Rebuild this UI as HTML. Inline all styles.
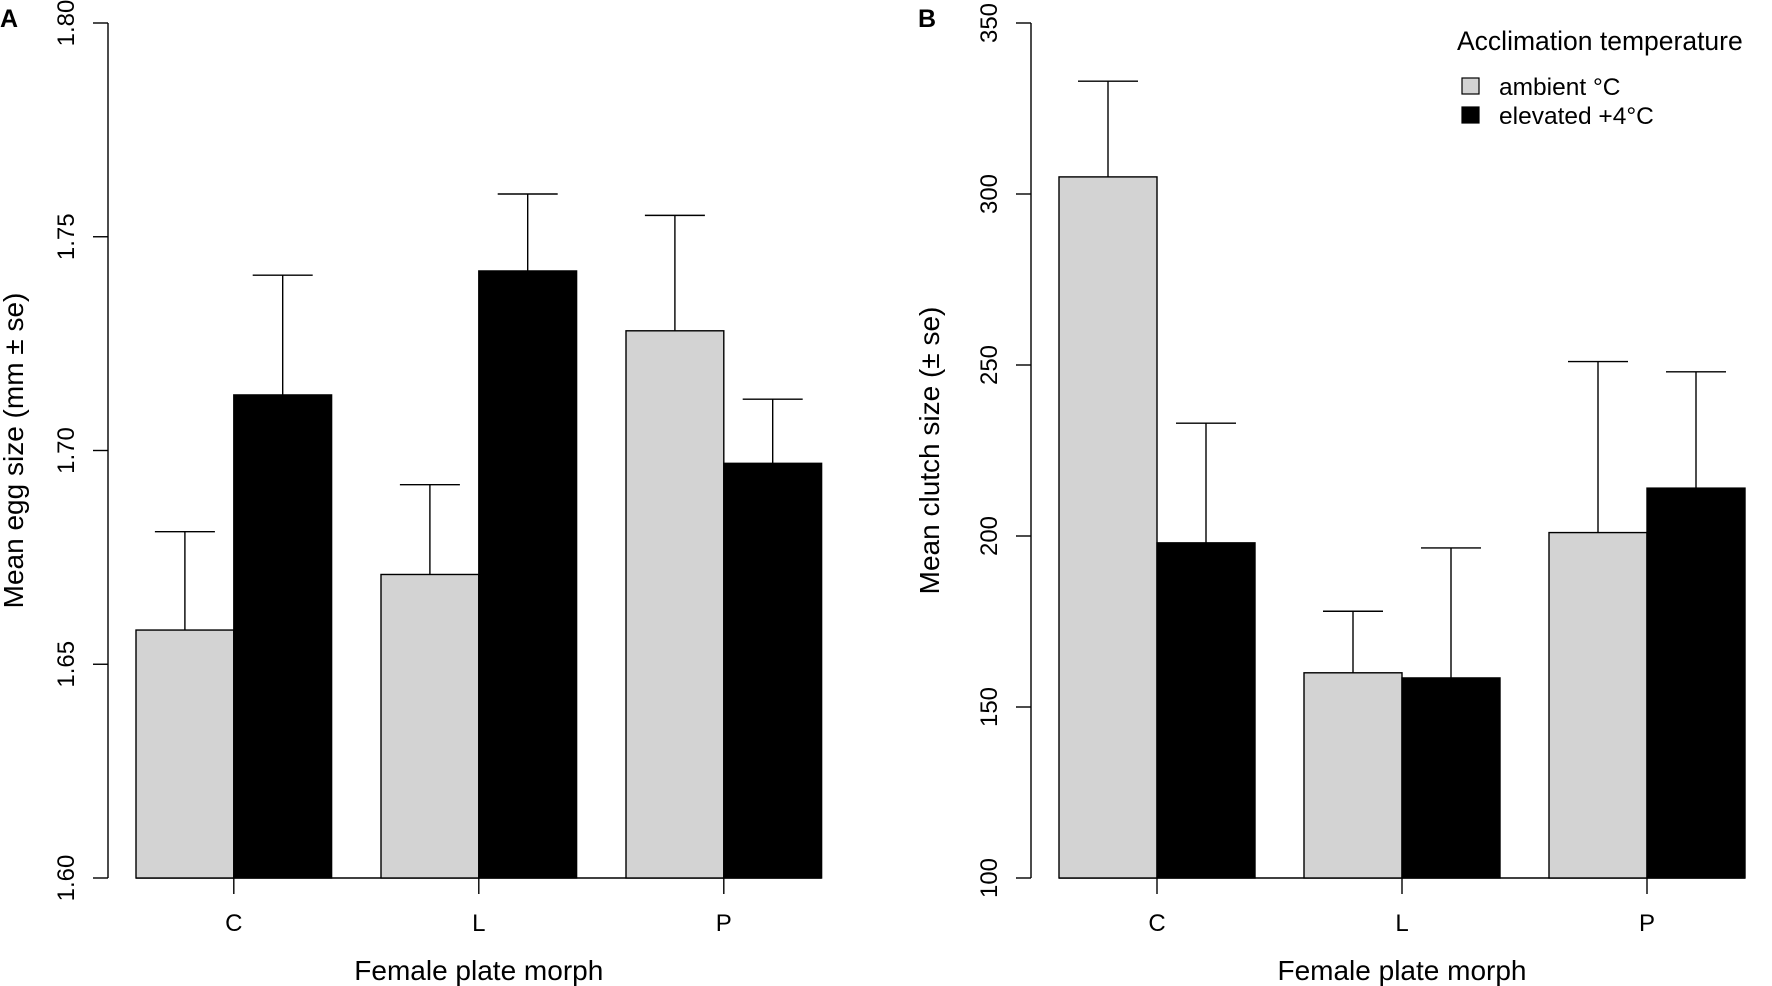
<!DOCTYPE html>
<html><head><meta charset="utf-8"><style>
html,body{margin:0;padding:0;background:#fff}
svg{display:block;font-family:"Liberation Sans",Arial,sans-serif}
</style></head><body>
<svg id="chart" width="1772" height="986" viewBox="0 0 1772 986"></svg>
<script>
const categories = ["C","L","P"];
const eggAmbient = [1.658, 1.671, 1.728];
const eggAmbientSE = [0.023, 0.021, 0.027];
const eggElevated = [1.713, 1.742, 1.697];
const eggElevatedSE = [0.028, 0.018, 0.015];
const eggTicks = ["1.60","1.65","1.70","1.75","1.80"];
const clutchAmbient = [305, 160, 201];
const clutchAmbientSE = [28, 18, 50];
const clutchElevated = [198, 158.5, 214];
const clutchElevatedSE = [35, 38, 34];
const clutchTicks = ["100","150","200","250","300","350"];

const NS = "http://www.w3.org/2000/svg";
const svg = document.getElementById("chart");
function mk(tag, attrs, parent, text){
  const e = document.createElementNS(NS, tag);
  for (const k in attrs) e.setAttribute(k, attrs[k]);
  if (text !== undefined) e.textContent = text;
  (parent||svg).appendChild(e); return e;
}
const plotTop = 23, plotBottom = 878;

function panel(cfg){
  const g = mk("g", {});
  
  
  const ymin = +cfg.ticks[0], ymax = +cfg.ticks[cfg.ticks.length-1];
  const y = v => plotBottom - (v - ymin) / (ymax - ymin) * (plotBottom - plotTop);
  const bw = cfg.bw;
  const ax = mk("line", {x1:cfg.axisX, y1:y(ymin), x2:cfg.axisX, y2:y(ymax), stroke:"#000", "stroke-width":1.4}, g);
  
  
  cfg.ticks.forEach(t => {
    const yy = y(+t);
    const tl = mk("line", {x1:cfg.axisX-15, y1:yy, x2:cfg.axisX, y2:yy, stroke:"#000", "stroke-width":1.4}, g);
    
    
    const tx = mk("text", {x:0, y:0, transform:`translate(${cfg.axisX-34},${yy}) rotate(-90)`, "text-anchor":"middle", "font-size":24, fill:"#000"}, g, t);
    
    
  });
  const yt = mk("text", {transform:`translate(${cfg.axisX-cfg.titleOff},${(plotTop+plotBottom)/2}) rotate(-90)`, "text-anchor":"middle", "font-size":28}, g, cfg.ytitle);
  
  
  const bl = mk("line", {x1:cfg.start, y1:plotBottom, x2:cfg.start + bw*2 + (categories.length-1)*cfg.step, y2:plotBottom, stroke:"#000", "stroke-width":1.4}, g);
  
  
  categories.forEach((c, i) => {
    const x0 = cfg.start + i*cfg.step;
    [[cfg.amb, cfg.ambSE, "#d3d3d3", "ambient"], [cfg.elev, cfg.elevSE, "#000", "elevated"]].forEach((s, j) => {
      const x = x0 + j*bw, v = s[0][i], se = s[1][i];
      const r = mk("rect", {x:x, y:y(v), width:bw, height:plotBottom - y(v), fill:s[2], stroke:"#000", "stroke-width":1.4}, g);
      
      
      const cx = x + bw/2;
      const e1 = mk("line", {x1:cx, y1:y(v), x2:cx, y2:y(v+se), stroke:"#000", "stroke-width":1.4}, g);
      
      
      const e2 = mk("line", {x1:cx-30, y1:y(v+se), x2:cx+30, y2:y(v+se), stroke:"#000", "stroke-width":1.4}, g);
      
      
    });
    const tx = x0 + bw;
    const tk = mk("line", {x1:tx, y1:plotBottom, x2:tx, y2:plotBottom+16, stroke:"#000", "stroke-width":1.4}, g);
    
    
    const lb = mk("text", {x:tx, y:931, "text-anchor":"middle", "font-size":24}, g, c);
    
    
  });
  const xt = mk("text", {x:cfg.start + bw + cfg.step, y:980, "text-anchor":"middle", "font-size":28}, g, "Female plate morph");
  
  
  const pl = mk("text", {x:cfg.labelX, y:27, "font-size":25, "font-weight":"bold"}, g, cfg.letter);
  
  
}

panel({name:"panel-a-egg-size", axisX:108, start:136, step:245, bw:97.8, titleOff:85, ticks:eggTicks, amb:eggAmbient, ambSE:eggAmbientSE, elev:eggElevated, elevSE:eggElevatedSE, ytitle:"Mean egg size (mm ± se)", letter:"A", labelX:0});
panel({name:"panel-b-clutch-size", axisX:1031, start:1059, step:245, bw:98, titleOff:92, ticks:clutchTicks, amb:clutchAmbient, ambSE:clutchAmbientSE, elev:clutchElevated, elevSE:clutchElevatedSE, ytitle:"Mean clutch size (± se)", letter:"B", labelX:918});

const lg = mk("g", {});


const lt = mk("text", {x:1457, y:50, "font-size":26.5}, lg, "Acclimation temperature");


[["ambient °C","#d3d3d3",95],["elevated +4°C","#000",124]].forEach(e => {
  const r = mk("rect", {x:1462, y:e[2]-17, width:17, height:16, fill:e[1], stroke:"#000", "stroke-width":1.2}, lg);
  
  
  const t = mk("text", {x:1499, y:e[2], "font-size":24.5}, lg, e[0]);
  
  
});
</script>
</body></html>
